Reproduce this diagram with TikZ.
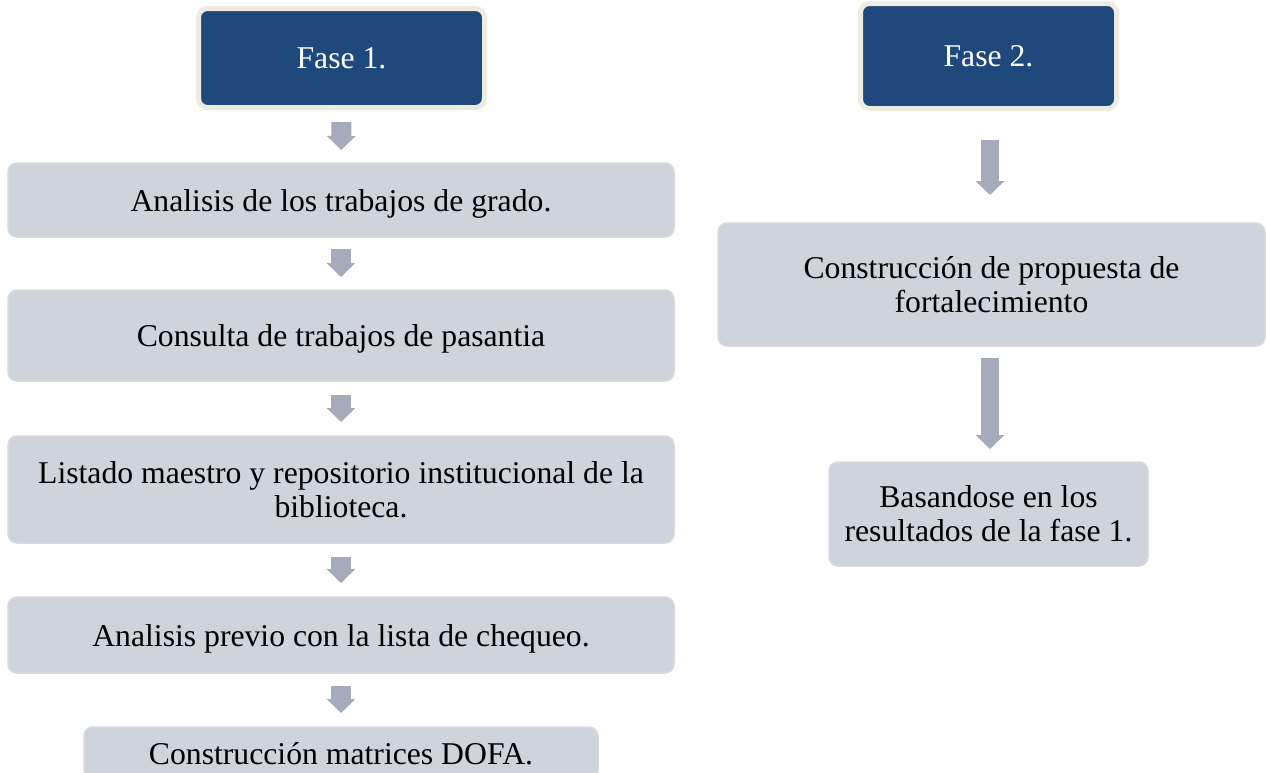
\documentclass[tikz,border=0pt]{standalone}
\usepackage{fontspec}
\setmainfont{Liberation Serif}
\usetikzlibrary{arrows.meta}
\definecolor{phaseblue}{RGB}{31,73,125}
\definecolor{phaseedge}{RGB}{238,236,225}
\definecolor{boxfill}{RGB}{207,211,219}
\definecolor{boxedge}{RGB}{215,218,225}
\definecolor{arrowgray}{RGB}{166,170,186}
\tikzset{
  x=1pt, y=-1pt,
  phase/.style={draw=phaseedge, line width=5pt, fill=phaseblue, rounded corners=9pt,
    text=white, inner sep=0pt, outer sep=0pt, align=center,
    font=\fontsize{31.7}{35}\selectfont},
  stepbox/.style={draw=boxedge, line width=1.5pt, fill=boxfill, rounded corners=9pt,
    text=black, inner sep=0pt, outer sep=0pt, align=center,
    font=\fontsize{31.7}{34}\selectfont},
  oneline/.style={text depth=0pt},
  flowarrow/.style={draw=arrowgray, line width=20pt, line cap=butt,
    -{Triangle[width=28pt,length=14pt]}},
  flowarrowR/.style={draw=arrowgray, line width=18pt, line cap=butt,
    -{Triangle[width=28pt,length=14pt]}}
}
\begin{document}
\begin{tikzpicture}
\useasboundingbox (0,0) rectangle (1267,772);
% left column
\node[phase, minimum width=286pt, minimum height=99pt] (f1) at (341.5,58) {Fase 1.};
\node[stepbox, oneline, minimum width=666pt, minimum height=74pt] (b1) at (341,200) {Analisis de los trabajos de grado.};
\node[stepbox, oneline, minimum width=666pt, minimum height=91pt] (b2) at (341,335.5) {Consulta de trabajos de pasantia};
\node[stepbox, minimum width=666pt, minimum height=107pt] (b3) at (341,489.5) {Listado maestro y repositorio institucional de la\\biblioteca.};
\node[stepbox, oneline, minimum width=666pt, minimum height=76pt] (b4) at (341,635) {Analisis previo con la lista de chequeo.};
\node[stepbox, oneline, minimum width=514pt, minimum height=52pt] (b5) at (341,753) {Construcción matrices DOFA.};
% right column
\node[phase, minimum width=256pt, minimum height=105pt] (f2) at (988.5,56) {Fase 2.};
\node[stepbox, minimum width=547pt, minimum height=123pt] (r1) at (991.5,284.5) {Construcción de propuesta de\\fortalecimiento};
\node[stepbox, minimum width=319pt, minimum height=104pt] (r2) at (988.5,514) {Basandose en los\\resultados de la fase 1.};
% arrows left
\draw[flowarrow, shorten <=14.5pt, shorten >=13pt] (f1.south) -- (b1.north);
\draw[flowarrow, shorten <=12pt, shorten >=13pt] (b1.south) -- (b2.north);
\draw[flowarrow, shorten <=14pt, shorten >=14pt] (b2.south) -- (b3.north);
\draw[flowarrow, shorten <=14pt, shorten >=14pt] (b3.south) -- (b4.north);
\draw[flowarrow, shorten <=13pt, shorten >=14pt] (b4.south) -- (b5.north);
% arrows right
\draw[flowarrowR, shorten <=31.5pt, shorten >=28pt] ([xshift=1.5pt]f2.south) -- ([xshift=1.5pt]f2.south |- r1.north);
\draw[flowarrowR, shorten <=12pt, shorten >=13pt] ([xshift=1.5pt]r2.north |- r1.south) -- ([xshift=1.5pt]r2.north);
\end{tikzpicture}
\end{document}
